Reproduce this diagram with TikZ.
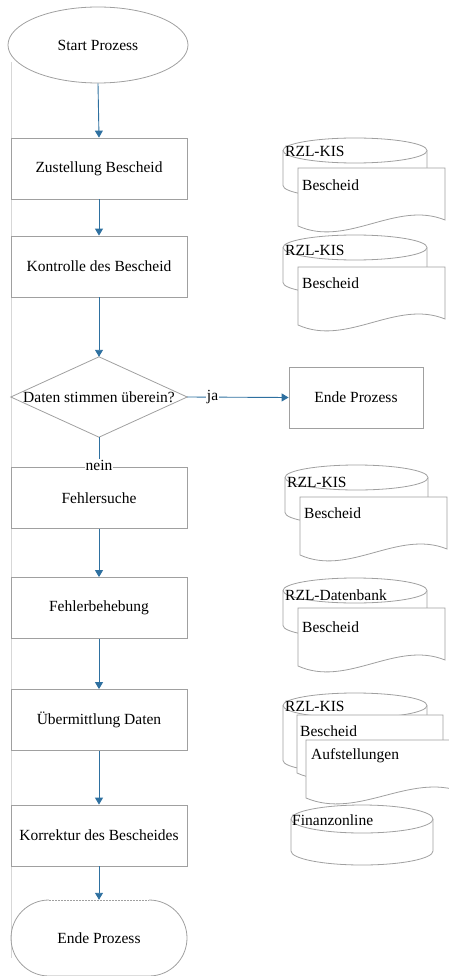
\documentclass[tikz,border=0pt]{standalone}
\usepackage{fontspec}
\setmainfont{Liberation Serif}
\usetikzlibrary{arrows.meta,shapes.geometric}
\definecolor{edgegray}{RGB}{160,160,160}
\definecolor{flowblue}{RGB}{46,112,160}
\definecolor{railgray}{RGB}{215,215,215}

% stored-data cylinder: centre x, top y, x radius, y radius, side height
\newcommand\datacyl[5]{%
  \filldraw[shapeline, fill=white] ({#1-#3},{-(#2+#4)}) -- ++(0,-#5)
    arc[start angle=180,end angle=360,x radius=#3,y radius=#4] -- ++(0,#5);
  \filldraw[shapeline, fill=white] (#1,{-(#2+#4)}) ellipse[x radius=#3,y radius=#4];}

% document sheet with wavy bottom: left x, top y, right x, bottom-left y, bottom-right y
\newcommand\docpage[5]{%
  \filldraw[shapeline, fill=white] (#1,-#2) -- (#3,-#2) -- (#3,-#5)
    .. controls ({#3-(#3-#1)/3},{-#5+20}) and ({#1+(#3-#1)/3},{-#4-22}) .. (#1,-#4) -- cycle;}

\begin{document}
\begin{tikzpicture}[x=1pt,y=1pt,
  font=\fontsize{15.5}{18}\selectfont,
  shapeline/.style={draw=edgegray, line width=0.8pt},
  procbox/.style={shapeline, minimum width=176pt, minimum height=61pt, inner sep=0pt, fill=white},
  flow/.style={-{Triangle[length=7pt,width=8pt]}, draw=flowblue, line width=0.9pt},
  lbl/.style={fill=white, inner sep=1pt},
  dstext/.style={anchor=west, inner sep=0pt}]
\useasboundingbox (0,0) rectangle (448,-976);

% page rail on the left
\draw[railgray, line width=0.8pt] (11,-62) -- (11,-958);

% process column
\node[ellipse, shapeline, minimum width=180pt, minimum height=76pt, inner sep=0pt] (start) at (98,-45) {Start Prozess};
\node[procbox] (zust) at (99,-168.5) {Zustellung Bescheid};
\node[procbox] (kontr) at (99,-266.5) {Kontrolle des Bescheid};
\node[minimum width=176pt, minimum height=80pt, inner sep=0pt] (dec) at (99,-397) {};
\draw[shapeline] (dec.north) -- (dec.east) -- (dec.south) -- (dec.west) -- cycle;
\node (dectext) at (dec.center) {Daten stimmen überein?};
\node[procbox, minimum width=134pt] (endr) at (356,-397.5) {Ende Prozess};
\node[procbox] (fsuche) at (99,-498) {Fehlersuche};
\node[procbox] (fbeh) at (99,-608) {Fehlerbehebung};
\node[procbox] (uebm) at (99,-720) {Übermittlung Daten};
\node[procbox] (korr) at (99,-835.5) {Korrektur des Bescheides};
\node[inner sep=0pt, minimum width=176pt, minimum height=76pt] (endp) at (99,-938) {Ende Prozess};
\draw[shapeline] (149,-900) arc[start angle=90,end angle=-90,radius=38] -- (49,-976)
  arc[start angle=270,end angle=90,radius=38];
\draw[shapeline, dash pattern=on 2pt off 1pt] (49,-900) -- (149,-900);

% connectors
\draw[flow] (start.south) -- (zust.north);
\draw[flow] (zust.south) -- (kontr.north);
\draw[flow] (kontr.south) -- (dec.north);
\draw[flow] (dec.east) -- node[lbl, pos=0.25] (ja) {ja} (endr.west);
\draw[draw=flowblue, line width=0.9pt] (dec.south) -- (fsuche.north)
  node[lbl, pos=1, yshift=2pt] (nein) {nein};
\draw[flow] (fsuche.south) -- (fbeh.north);
\draw[flow] (fbeh.south) -- (uebm.north);
\draw[flow] (uebm.south) -- (korr.north);
\draw[flow] (korr.south) -- (endp.north);

% data stores beside the steps
\datacyl{355}{138}{72}{12.5}{35}
\docpage{298}{168}{445}{226}{220}
\node[dstext] (dbA) at (285,-151) {RZL-KIS};
\node[dstext] (docA) at (302,-185) {Bescheid};

\datacyl{355}{235}{72}{12.5}{35}
\docpage{298}{267}{445}{325}{319}
\node[dstext] (dbB) at (285,-250) {RZL-KIS};
\node[dstext] (docB) at (302,-283) {Bescheid};

\datacyl{356.5}{465}{71.5}{12.5}{35}
\docpage{300}{497}{447}{555}{549}
\node[dstext] (dbC) at (287,-482) {RZL-KIS};
\node[dstext] (docC) at (304,-513) {Bescheid};

\datacyl{355}{578}{72}{12.5}{35}
\docpage{298}{608}{445}{666}{660}
\node[dstext] (dbD) at (285,-595) {RZL-Datenbank};
\node[dstext] (docD) at (302,-627) {Bescheid};

\datacyl{355}{693}{72}{12.5}{55}
\docpage{297}{715}{443}{773}{767}
\docpage{306}{740}{462}{798}{792}
\node[dstext] (dbE) at (285,-706) {RZL-KIS};
\node[dstext] (docE) at (300,-731) {Bescheid};
\node[dstext] (docF) at (311,-756) {Aufstellungen};

\datacyl{362}{805}{71}{14}{32}
\node[dstext] (dbG) at (292,-820) {Finanzonline};
\end{tikzpicture}
\end{document}
